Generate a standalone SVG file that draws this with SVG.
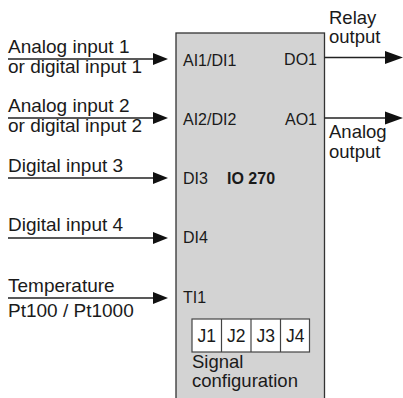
<svg xmlns="http://www.w3.org/2000/svg" width="403" height="398" viewBox="0 0 403 398">
<defs>
<style>
.t{font-family:"Liberation Sans",Arial,sans-serif;font-size:19px;fill:#1a1a1a}
.r{font-family:"Liberation Sans",Arial,sans-serif;font-size:18.5px;fill:#1a1a1a}
.b{font-family:"Liberation Sans",Arial,sans-serif;font-size:16px;fill:#1a1a1a}
.j{font-family:"Liberation Sans",Arial,sans-serif;font-size:17.5px;fill:#1a1a1a}
.bold{font-weight:bold}
.ln{stroke:#222;stroke-width:1.3;fill:none}
.ah{fill:#111}
</style>
</defs>
<g id="device">
<rect x="176" y="33" width="148.5" height="380" fill="#d3d3d3" stroke="#333" stroke-width="1.3"/>
<text class="b" x="183" y="66">AI1/DI1</text>
<text class="b" x="183" y="125">AI2/DI2</text>
<text class="b" x="183" y="184">DI3</text>
<text class="b bold" x="227" y="184">IO 270</text>
<text class="b" x="183" y="243">DI4</text>
<text class="b" x="183" y="303">TI1</text>
<text class="b" x="317" y="65" text-anchor="end">DO1</text>
<text class="b" x="317" y="125" text-anchor="end">AO1</text>
</g>
<g id="jumpers">
<rect x="192" y="319" width="117.5" height="33" fill="#fff" stroke="#444" stroke-width="1.2"/>
<line x1="221.5" y1="319" x2="221.5" y2="352" stroke="#444" stroke-width="1.2"/>
<line x1="251" y1="319" x2="251" y2="352" stroke="#444" stroke-width="1.2"/>
<line x1="280.5" y1="319" x2="280.5" y2="352" stroke="#444" stroke-width="1.2"/>
<text class="j" x="206.7" y="342" text-anchor="middle">J1</text>
<text class="j" x="236.2" y="342" text-anchor="middle">J2</text>
<text class="j" x="265.7" y="342" text-anchor="middle">J3</text>
<text class="j" x="295.2" y="342" text-anchor="middle">J4</text>
<text class="r" x="192" y="368">Signal</text>
<text class="r" x="192" y="387">configuration</text>
</g>
<g id="labels">
<text class="t" x="8" y="53">Analog input 1</text>
<text class="t" x="8" y="73">or digital input 1</text>
<text class="t" x="8" y="112">Analog input 2</text>
<text class="t" x="8" y="132">or digital input 2</text>
<text class="t" x="8" y="172">Digital input 3</text>
<text class="t" x="8" y="231">Digital input 4</text>
<text class="t" x="8" y="292">Temperature</text>
<text class="t" x="8" y="317">Pt100 / Pt1000</text>
<text class="r" x="329" y="24">Relay</text>
<text class="r" x="329" y="43">output</text>
<text class="r" x="329" y="138">Analog</text>
<text class="r" x="329" y="158">output</text>
</g>
<g id="connectors">
<line class="ln" x1="8" y1="59" x2="155" y2="59"/>
<polygon class="ah" points="153,53 168,59 153,65"/>
<line class="ln" x1="8" y1="118" x2="155" y2="118"/>
<polygon class="ah" points="153,112 168,118 153,124"/>
<line class="ln" x1="8" y1="178" x2="155" y2="178"/>
<polygon class="ah" points="153,172 168,178 153,184"/>
<line class="ln" x1="8" y1="238" x2="155" y2="238"/>
<polygon class="ah" points="153,232 168,238 153,244"/>
<line class="ln" x1="8" y1="298" x2="155" y2="298"/>
<polygon class="ah" points="153,292 168,298 153,304"/>
<line class="ln" x1="324.5" y1="57.5" x2="388" y2="57.5"/>
<polygon class="ah" points="385,51 403,57.5 385,64"/>
<line class="ln" x1="324.5" y1="118" x2="388" y2="118"/>
<polygon class="ah" points="385,111.5 403,118 385,124.5"/>
</g>
</svg>
